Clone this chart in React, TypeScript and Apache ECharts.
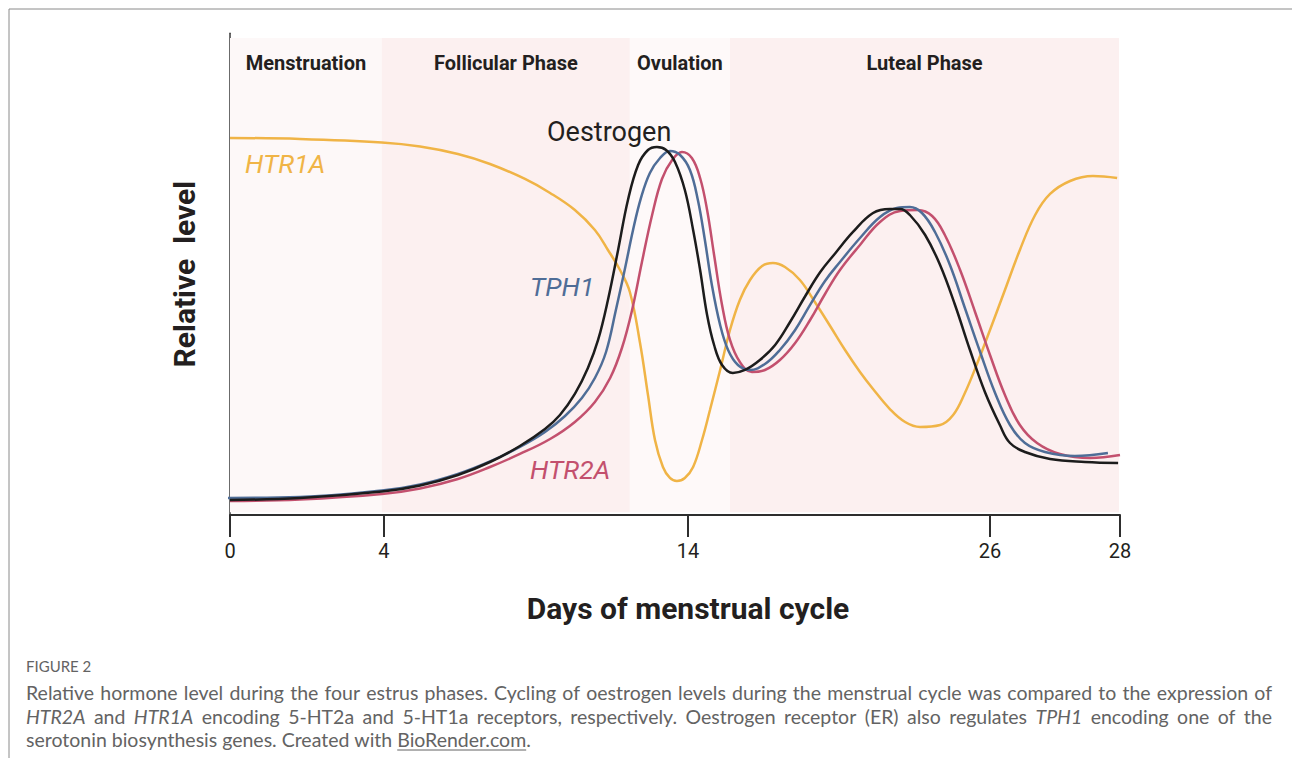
import React, { useEffect, useRef } from 'react';
import * as echarts from 'echarts';

// ---------- DATA ----------
// x values are positions along the schematic day axis (0..28 across the plot width);
// the day ticks sit at the positions below, as drawn in the figure.
const tickPositions = [0, 4.84, 14.41, 23.91, 28];
const tickLabels = ['0', '4', '14', '26', '28'];

const phaseNames = ['Menstruation', 'Follicular Phase', 'Ovulation', 'Luteal Phase'];
const phaseStart = [0, 4.78, 12.58, 15.73];
const phaseEnd = [4.78, 12.58, 15.73, 27.97];
const phaseLow = 0.6;
const phaseHigh = 100;

const htr1a: number[][] = [
  [0, 79.04], [2.2, 78.83], [4.78, 78.09], [5.98, 77.25], [7.17, 75.68], [8.18, 73.59],
  [9.28, 70.44], [10.07, 67.51], [10.85, 63.94], [11.48, 59.75], [11.89, 55.56], [12.27, 51.36],
  [12.58, 46.75], [12.9, 36.06], [13.15, 25.16], [13.37, 15.72], [13.62, 10.06], [13.84, 7.76],
  [14.06, 7.13], [14.31, 7.76], [14.57, 10.06], [14.85, 15.72], [15.1, 22.01], [15.42, 30.4],
  [15.73, 38.78], [16.04, 45.07], [16.36, 49.27], [16.74, 52.2], [17.08, 52.83], [17.46, 51.99],
  [17.93, 49.27], [18.4, 44.65], [18.88, 39.62], [19.35, 34.59], [19.82, 29.98], [20.23, 26.42],
  [20.76, 22.22], [21.24, 19.5], [21.71, 18.45], [22.34, 18.87], [22.75, 20.96], [23.12, 25.58],
  [23.5, 31.66], [23.91, 38.78], [24.38, 47.17], [24.85, 55.56], [25.33, 62.89], [25.8, 67.3],
  [26.43, 70.02], [27.15, 71.07], [27.91, 70.65],
];

const oestrogen: number[][] = [
  [0, 3.14], [2.2, 3.56], [4.78, 4.93], [5.98, 6.18], [7.17, 8.39], [8.18, 11.11],
  [9.12, 14.47], [9.91, 18.03], [10.38, 20.96], [10.85, 25.37], [11.26, 30.82], [11.58, 36.69],
  [11.89, 45.07], [12.21, 55.56], [12.52, 66.04], [12.84, 73.38], [13.15, 76.52], [13.43, 77.15],
  [13.72, 76.52], [14.0, 74.0], [14.31, 68.13], [14.57, 59.75], [14.79, 51.36], [15.01, 41.93],
  [15.23, 35.64], [15.48, 31.45], [15.82, 29.77], [16.2, 30.4], [16.67, 32.49], [17.15, 35.64],
  [17.62, 40.46], [18.1, 45.91], [18.57, 50.94], [19.05, 54.93], [19.6, 59.33], [20.23, 63.31],
  [20.76, 64.15], [21.08, 64.15], [21.39, 62.89], [21.87, 58.7], [22.34, 52.41], [22.81, 44.03],
  [23.28, 34.59], [23.75, 25.79], [24.22, 18.87], [24.54, 15.09], [25.01, 13.21], [25.8, 11.74],
  [26.9, 11.11], [27.94, 10.9],
];

const tph1: number[][] = [
  [-0.35, 3.56], [2.2, 3.77], [4.78, 5.14], [5.98, 6.39], [7.17, 8.6], [8.18, 11.22],
  [9.12, 14.26], [9.91, 17.4], [10.54, 20.75], [11.07, 24.53], [11.48, 28.72], [11.83, 34.17],
  [12.14, 42.98], [12.43, 51.78], [12.68, 59.75], [12.93, 66.46], [13.21, 71.7], [13.53, 74.84],
  [13.84, 76.31], [14.16, 75.47], [14.47, 72.33], [14.72, 66.04], [14.94, 57.65], [15.16, 48.22],
  [15.42, 39.83], [15.67, 34.59], [15.98, 31.45], [16.36, 30.4], [16.83, 31.66], [17.3, 34.59],
  [17.78, 38.78], [18.25, 44.03], [18.72, 49.06], [19.19, 53.04], [19.82, 58.07], [20.45, 62.47],
  [20.98, 64.36], [21.39, 64.57], [21.77, 63.31], [22.18, 59.33], [22.65, 52.41], [23.12, 43.4],
  [23.6, 34.17], [24.07, 25.58], [24.54, 18.87], [25.01, 15.09], [25.64, 13.21], [26.58, 12.37],
  [27.62, 13.0],
];

const htr2a: number[][] = [
  [0, 2.94], [2.2, 3.25], [4.78, 4.4], [5.98, 5.56], [7.17, 7.55], [8.18, 10.06],
  [9.12, 12.79], [10.07, 15.93], [10.85, 19.5], [11.48, 23.69], [11.96, 28.72], [12.33, 35.01],
  [12.65, 42.98], [12.96, 53.04], [13.28, 62.89], [13.59, 70.44], [13.91, 74.42], [14.22, 76.1],
  [14.53, 74.84], [14.79, 70.65], [15.01, 63.94], [15.23, 54.51], [15.48, 44.03], [15.73, 36.69],
  [16.04, 32.08], [16.42, 29.98], [16.83, 30.4], [17.3, 32.49], [17.78, 36.06], [18.25, 40.88],
  [18.72, 46.33], [19.19, 51.36], [19.82, 56.6], [20.45, 61.43], [21.08, 63.73], [21.64, 63.94],
  [22.09, 62.68], [22.49, 58.7], [22.97, 51.36], [23.44, 42.56], [23.91, 33.54], [24.38, 25.16],
  [24.85, 18.87], [25.39, 15.09], [26.11, 12.79], [27.06, 11.95], [28.0, 12.58],
];

const captionTitle = 'FIGURE 2';
const captionLines = [
  'Relative hormone level during the four estrus phases. Cycling of oestrogen levels during the menstrual cycle was compared to the expression of',
  '*HTR2A* and *HTR1A* encoding 5-HT2a and 5-HT1a receptors, respectively. Oestrogen receptor (ER) also regulates *TPH1* encoding one of the',
  'serotonin biosynthesis genes. Created with _BioRender.com_.',
];
const captionJustify = [true, true, false];

// ---------- STYLE ----------
const INK = '#231f20';
const ORANGE = '#f0b446';
const BLUE = '#4f6d97';
const RED = '#c3506e';
const BLACK = '#1c1c1c';
const phaseColors = ['#fdf8f8', '#fcf0f0', '#fef9f9', '#fcf0f0'];
const CAPTION_FONT = 'Lato';
const CAPTION_SIZE = 19.5;
const CAPTION_COLOR = '#636363';

function buildCaption(): any[] {
  const els: any[] = [];
  const canvas = document.createElement('canvas');
  const ctx = canvas.getContext('2d')!;
  const measure = (t: string, italic: boolean) => {
    ctx.font = `${italic ? 'italic ' : ''}${CAPTION_SIZE}px ${CAPTION_FONT}`;
    return ctx.measureText(t).width;
  };
  const left = 26;
  const right = 1272;
  const lineY = [692, 716, 739];
  els.push({
    type: 'text',
    x: left,
    y: 666,
    z: 100,
    style: {
      text: captionTitle,
      fontFamily: CAPTION_FONT,
      fontSize: 15,
      fill: CAPTION_COLOR,
      textAlign: 'left',
      textVerticalAlign: 'middle',
    },
  });
  captionLines.forEach((line, li) => {
    const words = line.split(' ');
    const wordSegs = words.map((w) => {
      const segs: { t: string; italic: boolean; under: boolean; w: number }[] = [];
      const re = /(\*[^*]+\*|_[^_]+_|[^*_]+)/g;
      let m: RegExpExecArray | null;
      while ((m = re.exec(w))) {
        let t = m[0];
        let italic = false;
        let under = false;
        if (t.startsWith('*')) { italic = true; t = t.slice(1, -1); }
        else if (t.startsWith('_')) { under = true; t = t.slice(1, -1); }
        segs.push({ t, italic, under, w: measure(t, italic) });
      }
      return segs;
    });
    const widths = wordSegs.map((s) => s.reduce((a, b) => a + b.w, 0));
    const total = widths.reduce((a, b) => a + b, 0);
    const gap = captionJustify[li] ? (right - left - total) / (words.length - 1) : measure(' ', false);
    let x = left;
    const y = lineY[li];
    wordSegs.forEach((segs) => {
      segs.forEach((s) => {
        els.push({
          type: 'text',
          x,
          y,
          z: 100,
          style: {
            text: s.t,
            fontFamily: CAPTION_FONT,
            fontSize: CAPTION_SIZE,
            fontStyle: s.italic ? 'italic' : 'normal',
            fill: CAPTION_COLOR,
            textAlign: 'left',
            textVerticalAlign: 'middle',
          },
        });
        if (s.under) {
          els.push({
            type: 'line',
            z: 100,
            shape: { x1: x, y1: y + 11, x2: x + s.w, y2: y + 11 },
            style: { stroke: CAPTION_COLOR, lineWidth: 1 },
          });
        }
        x += s.w;
      });
      x += gap;
    });
  });
  return els;
}

export default function App() {
  const ref = useRef<HTMLDivElement>(null);
  useEffect(() => {
    if (!ref.current) return;
    const chart = echarts.init(ref.current, null, { renderer: 'svg' });
    const lineSeries = (name: string, data: number[][], color: string, extra: any = {}) => ({
      name,
      type: 'line',
      data,
      smooth: 0.4,
      showSymbol: false,
      symbol: 'none',
      silent: true,
      lineStyle: { color, width: 2.5 },
      itemStyle: { color },
      z: 3,
      ...extra,
    });
    const curveLabel = (text: string, x: number, y: number, color: string, italic: boolean, size: number) => ({
      type: 'text',
      x,
      y,
      z: 100,
      silent: true,
      style: {
        text,
        fontFamily: 'Roboto',
        fontStyle: italic ? 'italic' : 'normal',
        fontSize: size,
        fill: color,
        textAlign: 'left',
        textVerticalAlign: 'middle',
      },
    });
    const option: any = {
      animation: false,
      backgroundColor: '#ffffff',
      textStyle: { fontFamily: 'Roboto' },
      grid: { left: 230, right: 172, top: 33.2, bottom: 243, outerBoundsMode: 'none' },
      xAxis: {
        type: 'value',
        min: 0,
        max: 28,
        name: 'Days of menstrual cycle',
        nameLocation: 'middle',
        nameGap: 78,
        nameTextStyle: {
          fontFamily: 'Roboto',
          fontWeight: 'bold',
          fontSize: 30,
          color: INK,
          padding: [0, 0, 0, 26],
        },
        axisLine: { show: true, lineStyle: { color: '#2e2e2e', width: 2 } },
        axisTick: {
          show: true,
          customValues: tickPositions,
          length: 22,
          lineStyle: { color: '#2e2e2e', width: 2 },
        },
        axisLabel: {
          customValues: tickPositions,
          margin: 26,
          fontSize: 20,
          fontFamily: 'Roboto',
          color: INK,
          formatter: (v: number) => {
            const i = tickPositions.findIndex((p) => Math.abs(p - v) < 1e-6);
            return i >= 0 ? tickLabels[i] : '';
          },
        },
        splitLine: { show: false },
      },
      yAxis: {
        type: 'value',
        min: 0,
        max: 101,
        name: 'Relative  level',
        nameLocation: 'middle',
        nameGap: 31,
        nameTextStyle: {
          fontFamily: 'Roboto',
          fontWeight: 'bold',
          fontSize: 30,
          color: INK,
        },
        axisLine: { show: true, lineStyle: { color: '#3a3a3a', width: 1.5 } },
        axisTick: { show: false },
        axisLabel: { show: false },
        splitLine: { show: false },
      },
      series: [
        {
          name: 'phases',
          type: 'line',
          data: [],
          silent: true,
          z: 1,
          markArea: {
            silent: true,
            data: phaseNames.map((n, i) => [
              {
                name: n,
                xAxis: phaseStart[i],
                yAxis: phaseLow,
                itemStyle: { color: phaseColors[i] },
              },
              { xAxis: phaseEnd[i], yAxis: phaseHigh },
            ]),
            label: {
              show: true,
              position: 'insideTop',
              distance: 15,
              fontFamily: 'Roboto',
              fontWeight: 'bold',
              fontSize: 20,
              color: INK,
            },
          },
        },
        lineSeries('HTR1A', htr1a, ORANGE),
        lineSeries('HTR2A', htr2a, RED),
        lineSeries('TPH1', tph1, BLUE, { clip: false }),
        lineSeries('Oestrogen', oestrogen, BLACK),
      ],
      graphic: [
        {
          type: 'rect',
          z: 100,
          shape: { x: 9, y: 9, width: 1400, height: 900 },
          style: { fill: 'none', stroke: '#8a8a8a', lineWidth: 1 },
          silent: true,
        },
        curveLabel('HTR1A', 245, 163, ORANGE, true, 26.5),
        curveLabel('TPH1', 530, 286, BLUE, true, 26.5),
        curveLabel('HTR2A', 530, 469, RED, true, 26.5),
        curveLabel('Oestrogen', 547, 132, INK, false, 27),
        ...buildCaption(),
      ],
    };
    chart.setOption(option);
    return () => chart.dispose();
  }, []);
  return (
    <div
      ref={ref}
      style={{ position: 'fixed', left: 0, top: 0, width: 1292, height: 758, background: '#fff' }}
    />
  );
}
